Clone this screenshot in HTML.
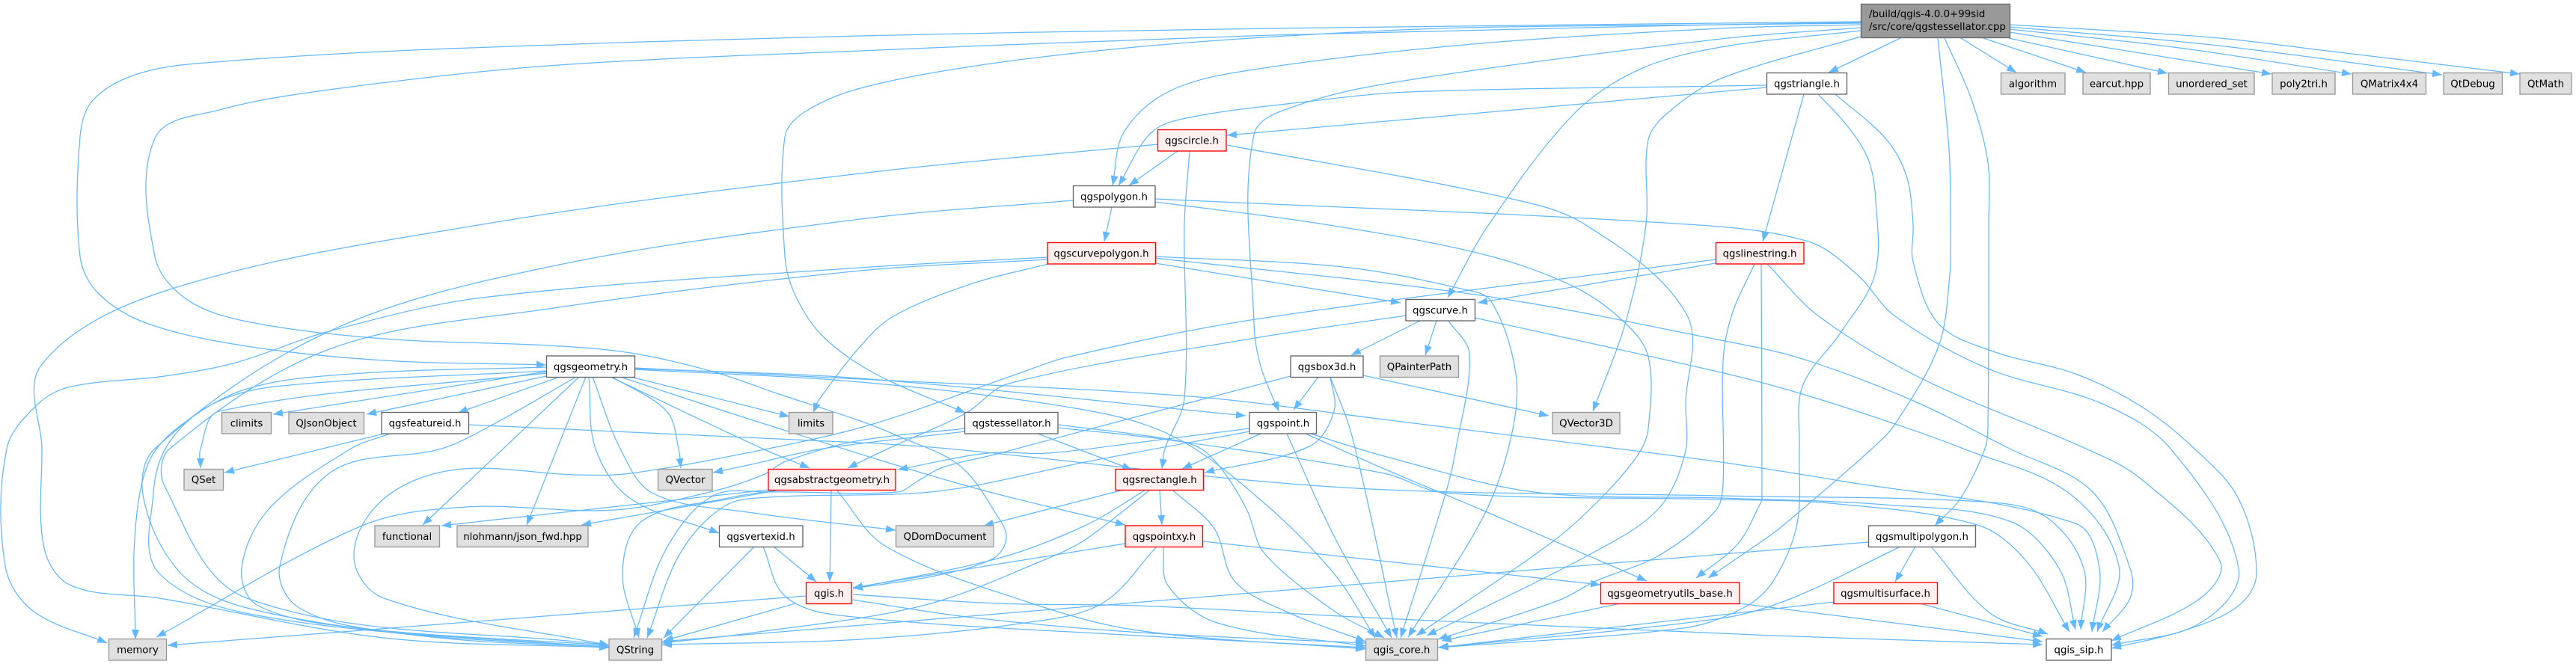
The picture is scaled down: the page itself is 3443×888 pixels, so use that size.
<!DOCTYPE html>
<html>
<head>
<meta charset="utf-8">
<title>qgstessellator.cpp include graph</title>
<style>
html,body{margin:0;padding:0;background:#fff;}
svg{display:block;}
#e path{fill:none;stroke:#63b8ff;stroke-width:1.25;marker-end:url(#a);}
rect{stroke-width:1.35;}
.w{fill:#fff;stroke:#666;}
.g{fill:#e0e0e0;stroke:#999;}
.r{fill:#fff0f0;stroke:#f00;}
text{font-family:"DejaVu Sans","Liberation Sans",sans-serif;font-size:13.33px;fill:#000;text-anchor:middle;}
</style>
</head>
<body>
<svg xmlns="http://www.w3.org/2000/svg" width="3443" height="888" viewBox="0 0 3443 888">
<defs>
<marker id="a" markerUnits="userSpaceOnUse" markerWidth="14" markerHeight="11" refX="13" refY="5" orient="auto">
<path d="M0 0L13 5L0 10Z" fill="#63b8ff"/>
</marker>
</defs>
<g id="e">
<!-- root -->
<path d="M2540 51L2444 97"/>
<path d="M2621 51L2695 97"/>
<path d="M2651 51L2788 97"/>
<path d="M2685 51L2897 98"/>
<path d="M2686 43L3036 99"/>
<path d="M2686 39L2905 63L3143 99"/>
<path d="M2686 36L2956 60L3264 100"/>
<path d="M2686 33L2956 50L3102 67L3368 99"/>
<path d="M2487 29L2300 31L1700 38L1150 48L600 65L300 82L190 97L125 133L107 183L107 343L132 393L198 433L330 463L513 482L730 488"/>
<path d="M2487 30L2300 33L1700 47L1150 68L733 88L440 120L293 147L207 185L207 343L249 400L330 430L513 453L733 462L843 472L953 497L1041 527L1150 563L1200 583L1283 623L1333 690L1345 720L1327 747L1250 770L1140 787"/>
<path d="M2487 31L2300 33L1957 37L1737 47L1517 63L1311 87L1150 118L1075 150L1049 183L1049 343L1063 395L1100 450L1170 500L1290 552"/>
<path d="M2487 33L2300 38L1957 60L1663 95L1561 123L1502 177L1487 248"/>
<path d="M2487 37L2300 52L1883 107L1737 140L1676 180L1676 433L1685 490L1709 550"/>
<path d="M2487 41L2300 63L2191 93L2103 153L1990 300L1935 398"/>
<path d="M2487 49L2300 105L2230 150L2203 187L2200 300L2173 430L2129 550"/>
<path d="M2590 51L2605 200L2607 300L2606 367L2591 463L2533 567L2502 600L2402 687L2370 713L2283 773"/>
<path d="M2599 51L2635 133L2657 217L2658 300L2657 567L2653 600L2620 667L2586 703"/>
<!-- triangle -->
<path d="M2361 117L1640 181"/>
<path d="M2361 114L2300 115L1883 123L1737 137L1590 157L1539 177L1495 248"/>
<path d="M2411 126L2356 323"/>
<path d="M2430 126L2468 167L2497 213L2507 267L2506 367L2460 445L2409 517L2405 600L2402 700L2370 777L2330 813L2250 840L1923 866"/>
<path d="M2453 126L2520 185L2548 235L2557 300L2557 350L2591 433L2664 470L2774 500L2861 543L2933 600L2992 667L3016 767L2992 810L2920 843L2822 867"/>
<!-- linestring -->
<path d="M2293 352L1975 405"/>
<path d="M2293 347L1678 427L1429 477L1360 500L1167 567L1027 600L843 633L770 635L609 628L513 667L473 743L513 800L814 863"/>
<path d="M2345 353L2315 420L2303 483L2303 647L2293 683L2217 743L2133 777L2083 803L1922 855"/>
<path d="M2354 353L2355 667L2353 673L2323 727L2267 773"/>
<path d="M2362 353L2431 423L2570 507L2788 600L2861 640L2967 750L2941 800L2822 857"/>
<!-- circle -->
<path d="M1574 202L1509 248"/>
<path d="M1590 202L1583 300L1583 533L1557 600L1553 627"/>
<path d="M1547 193L1150 232L645 300L227 387L56 487L56 600L59 733L95 783L213 800L513 853L814 866"/>
<path d="M1640 194L2007 263L2118 300L2254 420L2253 540L2252 607L2217 680L2133 737L1907 850"/>
<!-- polygon -->
<path d="M1486 277L1476 323"/>
<path d="M1434 268L1150 293L733 357L440 443L207 600L192 667L242 767L330 813L587 853L814 865"/>
<path d="M1544 270L1770 300L1982 340L2103 383L2170 430L2203 477L2203 573L2190 607L2143 663L2077 723L1893 850"/>
<path d="M1544 266L2256 300L2417 323L2482 367L2533 423L2657 493L2810 540L2901 600L2992 760L2941 833L2822 863"/>
<!-- curvepolygon -->
<path d="M1544 352L1872 405"/>
<path d="M1544 343L1795 357L1957 387L1993 403L2026 500L2020 583L1983 690L1882 852"/>
<path d="M1544 345L1979 395L2300 455L2409 480L2555 535L2686 600L2796 657L2847 760L2847 800L2810 845"/>
<path d="M1400 347L1150 362L733 413L440 467L227 600L220 650L330 800L814 863"/>
<path d="M1400 344L1150 358L645 398L440 443L315 485L220 503L95 517L51 540L9 600L7 757L44 817L143 860"/>
<path d="M1401 353L1297 380L1194 423L1150 463L1093 537L1087 552"/>
<!-- curve -->
<path d="M1898 429L1806 475"/>
<path d="M1920 429L1905 475"/>
<path d="M1879 422L1678 452L1348 513L1290 553L1187 600L1133 626"/>
<path d="M1936 429L1964 473L1946 600L1933 657L1872 853"/>
<path d="M1971 425L2300 498L2409 527L2533 567L2624 600L2766 660L2832 757L2803 845"/>
<!-- box3d -->
<path d="M1822 502L2070 556"/>
<path d="M1762 504L1729 548"/>
<path d="M1725 503L1520 557L1333 607L1260 625L1227 643L1200 658L1027 658L953 663L891 733L847 853"/>
<path d="M1778 504L1783 550L1750 597L1610 632"/>
<path d="M1778 504L1807 583L1867 853"/>
<!-- point -->
<path d="M1670 573L1520 592L1400 606L1320 606L1200 628"/>
<path d="M1670 577L1450 618L1300 650L1217 660L1027 665L968 677L909 740L865 853"/>
<path d="M1685 580L1580 627"/>
<path d="M1720 580L1783 717L1860 853"/>
<path d="M1752 580L1850 610L2050 658L2300 666L2519 675L2686 697L2752 760L2774 842"/>
<path d="M1745 580L1850 627L1983 683L2201 777"/>
<!-- tessellator -->
<path d="M1387 580L1513 628"/>
<path d="M1290 577L1100 600L1000 622L953 632"/>
<path d="M1290 573L1144 590L1050 617L1020 635L953 657L821 682L623 678L484 703L209 852"/>
<path d="M1414 568L1560 587L1605 600L1637 633L1667 683L1690 740L1783 817L1850 853"/>
<path d="M1414 572L1560 588L1850 633L1930 659L2300 668L2446 673L2643 702L2708 750L2766 845"/>
<!-- geometry -->
<path d="M848 493L1150 506L1665 556"/>
<path d="M848 492L1150 507L1590 530L1850 561L2162 600L2300 618L2453 642L2774 700L2806 760L2796 845"/>
<path d="M848 494L1150 511L1443 547L1567 583L1683 667L1783 767L1838 853"/>
<path d="M843 504L1055 557"/>
<path d="M818 504L891 550L907 600L910 626"/>
<path d="M818 505L1019 600L1082 626"/>
<path d="M792 504L829 600L873 660L1000 685L1197 709"/>
<path d="M787 504L796 600L843 667L961 713"/>
<path d="M783 504L704 702"/>
<path d="M774 504L565 702"/>
<path d="M770 504L660 567L590 600L440 633L374 757L400 813L520 845L814 865"/>
<path d="M829 504L1000 560L1293 650L1504 702"/>
<path d="M748 504L612 552"/>
<path d="M730 503L490 554"/>
<path d="M730 497L365 554"/>
<path d="M730 499L293 550L268 600L268 626"/>
<path d="M730 491L470 500L330 520L240 570L198 620L180 720L181 855"/>
<path d="M730 496L367 517L279 543L224 595L205 660L213 767L367 827L814 866"/>
<!-- featureid -->
<path d="M513 580L300 632"/>
<path d="M521 580L469 600L360 680L323 760L345 810L480 840L814 863"/>
<path d="M626 568L1150 592L1267 600L1795 652L2300 663L2664 672L2737 693L2785 760L2781 842"/>
<!-- abstract -->
<path d="M1111 655L1109 778"/>
<path d="M1027 655L590 703"/>
<path d="M1038 656L777 702"/>
<path d="M1034 656L968 667L858 697L832 767L854 853"/>
<path d="M1118 655L1183 730L1367 803L1520 843L1825 868"/>
<!-- vertexid -->
<path d="M1034 731L1091 778"/>
<path d="M1008 731L887 853"/>
<path d="M1020 731L1049 797L1122 823L1520 850L1825 866"/>
<!-- qgis -->
<path d="M1077 797L224 863"/>
<path d="M1063 807L887 857"/>
<path d="M1139 802L1300 826L1525 846L1825 860"/>
<path d="M1140 795L1333 807L1520 810L1850 827L2370 850L2730 862"/>
<!-- rectangle -->
<path d="M1530 656L1450 703L1333 747L1140 787"/>
<path d="M1536 656L1450 722L1400 747L1233 810L1000 847L885 860"/>
<path d="M1498 656L1315 703"/>
<path d="M1550 656L1553 702"/>
<path d="M1568 656L1623 707L1650 777L1717 817L1825 858"/>
<!-- pointxy -->
<path d="M1504 727L1256 767L1140 786"/>
<path d="M1546 731L1473 807L1370 833L1150 855L885 862"/>
<path d="M1555 731L1561 783L1627 833L1825 864"/>
<path d="M1608 724L2139 782"/>
<!-- multipolygon -->
<path d="M2497 725L885 858"/>
<path d="M2540 731L2395 800L2300 827L1922 866"/>
<path d="M2560 731L2533 778"/>
<path d="M2581 731L2660 820L2737 848"/>
<!-- multisurface, geomutils -->
<path d="M2451 805L1922 866"/>
<path d="M2566 807L2730 851"/>
<path d="M2166 807L1927 857"/>
<path d="M2325 807L2730 858"/>
</g>
<g>
<rect class="w" x="2487.5" y="5.5" width="199" height="45" style="fill:#999;stroke:#666"/>
<text x="2498" y="23" style="text-anchor:start">/build/qgis-4.0.0+99sid</text>
<text x="2498" y="40" style="text-anchor:start">/src/core/qgstessellator.cpp</text>

<rect class="w" x="2361.5" y="97.5" width="107" height="28.5"/><text x="2415" y="116.5">qgstriangle.h</text>
<rect class="g" x="2674.5" y="97.5" width="85.5" height="28.5"/><text x="2717" y="116.5">algorithm</text>
<rect class="g" x="2784" y="97.5" width="90" height="28.5"/><text x="2829" y="116.5">earcut.hpp</text>
<rect class="g" x="2898.5" y="97.5" width="114.5" height="28.5"/><text x="2956" y="116.5">unordered_set</text>
<rect class="g" x="3037" y="97.5" width="84" height="28.5"/><text x="3079" y="116.5">poly2tri.h</text>
<rect class="g" x="3144.5" y="97.5" width="98" height="28.5"/><text x="3193.5" y="116.5">QMatrix4x4</text>
<rect class="g" x="3266" y="97.5" width="78.5" height="28.5"/><text x="3305" y="116.5">QtDebug</text>
<rect class="g" x="3368" y="97.5" width="69" height="28.5"/><text x="3402.5" y="116.5">QtMath</text>

<rect class="r" x="1547.5" y="173.5" width="91.5" height="28.5"/><text x="1593" y="192.5">qgscircle.h</text>
<rect class="w" x="1434.5" y="248.5" width="109.5" height="28.5"/><text x="1489" y="267.5">qgspolygon.h</text>
<rect class="r" x="1400" y="324.5" width="144.5" height="28.5"/><text x="1472" y="343.5">qgscurvepolygon.h</text>
<rect class="r" x="2293.5" y="324.5" width="117.5" height="28.5"/><text x="2352" y="343.5">qgslinestring.h</text>
<rect class="w" x="1879" y="400.5" width="92.5" height="28.5"/><text x="1925" y="419.5">qgscurve.h</text>

<rect class="w" x="730.5" y="476" width="118" height="28.5"/><text x="789.5" y="495">qgsgeometry.h</text>
<rect class="w" x="1725" y="476" width="97" height="28.5"/><text x="1773.5" y="495">qgsbox3d.h</text>
<rect class="g" x="1844.5" y="476" width="105" height="28.5"/><text x="1897" y="495">QPainterPath</text>

<rect class="g" x="296.5" y="551.5" width="66" height="28.5"/><text x="329.5" y="570.5">climits</text>
<rect class="g" x="386" y="551.5" width="100.5" height="28.5"/><text x="436" y="570.5">QJsonObject</text>
<rect class="w" x="510" y="551.5" width="116.5" height="28.5"/><text x="568" y="570.5">qgsfeatureid.h</text>
<rect class="g" x="1054.5" y="551.5" width="58.5" height="28.5"/><text x="1084" y="570.5">limits</text>
<rect class="w" x="1289.5" y="551.5" width="124.5" height="28.5"/><text x="1352" y="570.5">qgstessellator.h</text>
<rect class="w" x="1670" y="551.5" width="89.5" height="28.5"/><text x="1715" y="570.5">qgspoint.h</text>
<rect class="g" x="2075" y="551.5" width="90" height="28.5"/><text x="2120" y="570.5">QVector3D</text>

<rect class="g" x="246" y="627.5" width="52.5" height="28"/><text x="272" y="646">QSet</text>
<rect class="g" x="879.5" y="627.5" width="72.5" height="28"/><text x="916" y="646">QVector</text>
<rect class="r" x="1027" y="627.5" width="170" height="28"/><text x="1112" y="646">qgsabstractgeometry.h</text>
<rect class="r" x="1491" y="627.5" width="117.5" height="28"/><text x="1550" y="646">qgsrectangle.h</text>

<rect class="g" x="501" y="703" width="86.5" height="28.5"/><text x="544" y="722">functional</text>
<rect class="g" x="611" y="703" width="175" height="28.5"/><text x="698.5" y="722">nlohmann/json_fwd.hpp</text>
<rect class="w" x="961.5" y="703" width="111.5" height="28.5"/><text x="1017" y="722">qgsvertexid.h</text>
<rect class="g" x="1197.5" y="703" width="130.5" height="28.5"/><text x="1263" y="722">QDomDocument</text>
<rect class="r" x="1504" y="703" width="103.5" height="28.5"/><text x="1556" y="722">qgspointxy.h</text>
<rect class="w" x="2497.5" y="703" width="143" height="28.5"/><text x="2569" y="722">qgsmultipolygon.h</text>

<rect class="r" x="1077.5" y="779" width="60.5" height="28.5"/><text x="1108" y="798">qgis.h</text>
<rect class="r" x="2139.5" y="779" width="185.5" height="28.5"/><text x="2232" y="798">qgsgeometryutils_base.h</text>
<rect class="r" x="2451" y="779" width="138.5" height="28.5"/><text x="2520" y="798">qgsmultisurface.h</text>

<rect class="g" x="145.5" y="854.5" width="77" height="28.5"/><text x="184" y="873.5">memory</text>
<rect class="g" x="814" y="854.5" width="70.5" height="28.5"/><text x="849" y="873.5">QString</text>
<rect class="g" x="1825.5" y="854.5" width="96" height="28.5"/><text x="1873.5" y="873.5">qgis_core.h</text>
<rect class="w" x="2735" y="854.5" width="87" height="28.5"/><text x="2778.5" y="873.5">qgis_sip.h</text>
</g>
</svg>
<script>
(function(){
  var ps=document.querySelectorAll('#e path');
  function nrm(a,b){var x=b[0]-a[0],y=b[1]-a[1],l=Math.sqrt(x*x+y*y)||1;return [x/l,y/l];}
  for(var k=0;k<ps.length;k++){
    var m=ps[k].getAttribute('d').match(/-?[\d.]+/g),p=[];
    for(var i=0;i<m.length;i+=2)p.push([+m[i],+m[i+1]]);
    if(p.length<3)continue;
    var t=[];
    for(i=0;i<p.length;i++){
      t.push(nrm(p[Math.max(i-1,0)],p[Math.min(i+1,p.length-1)]));
    }
    var d='M'+p[0][0]+' '+p[0][1];
    for(i=0;i<p.length-1;i++){
      var a=p[i],b=p[i+1],s=Math.sqrt(Math.pow(b[0]-a[0],2)+Math.pow(b[1]-a[1],2))/3;
      d+='C'+(a[0]+t[i][0]*s).toFixed(1)+' '+(a[1]+t[i][1]*s).toFixed(1)+' '+
         (b[0]-t[i+1][0]*s).toFixed(1)+' '+(b[1]-t[i+1][1]*s).toFixed(1)+' '+b[0]+' '+b[1];
    }
    ps[k].setAttribute('d',d);
  }
})();
</script>
</body>
</html>
